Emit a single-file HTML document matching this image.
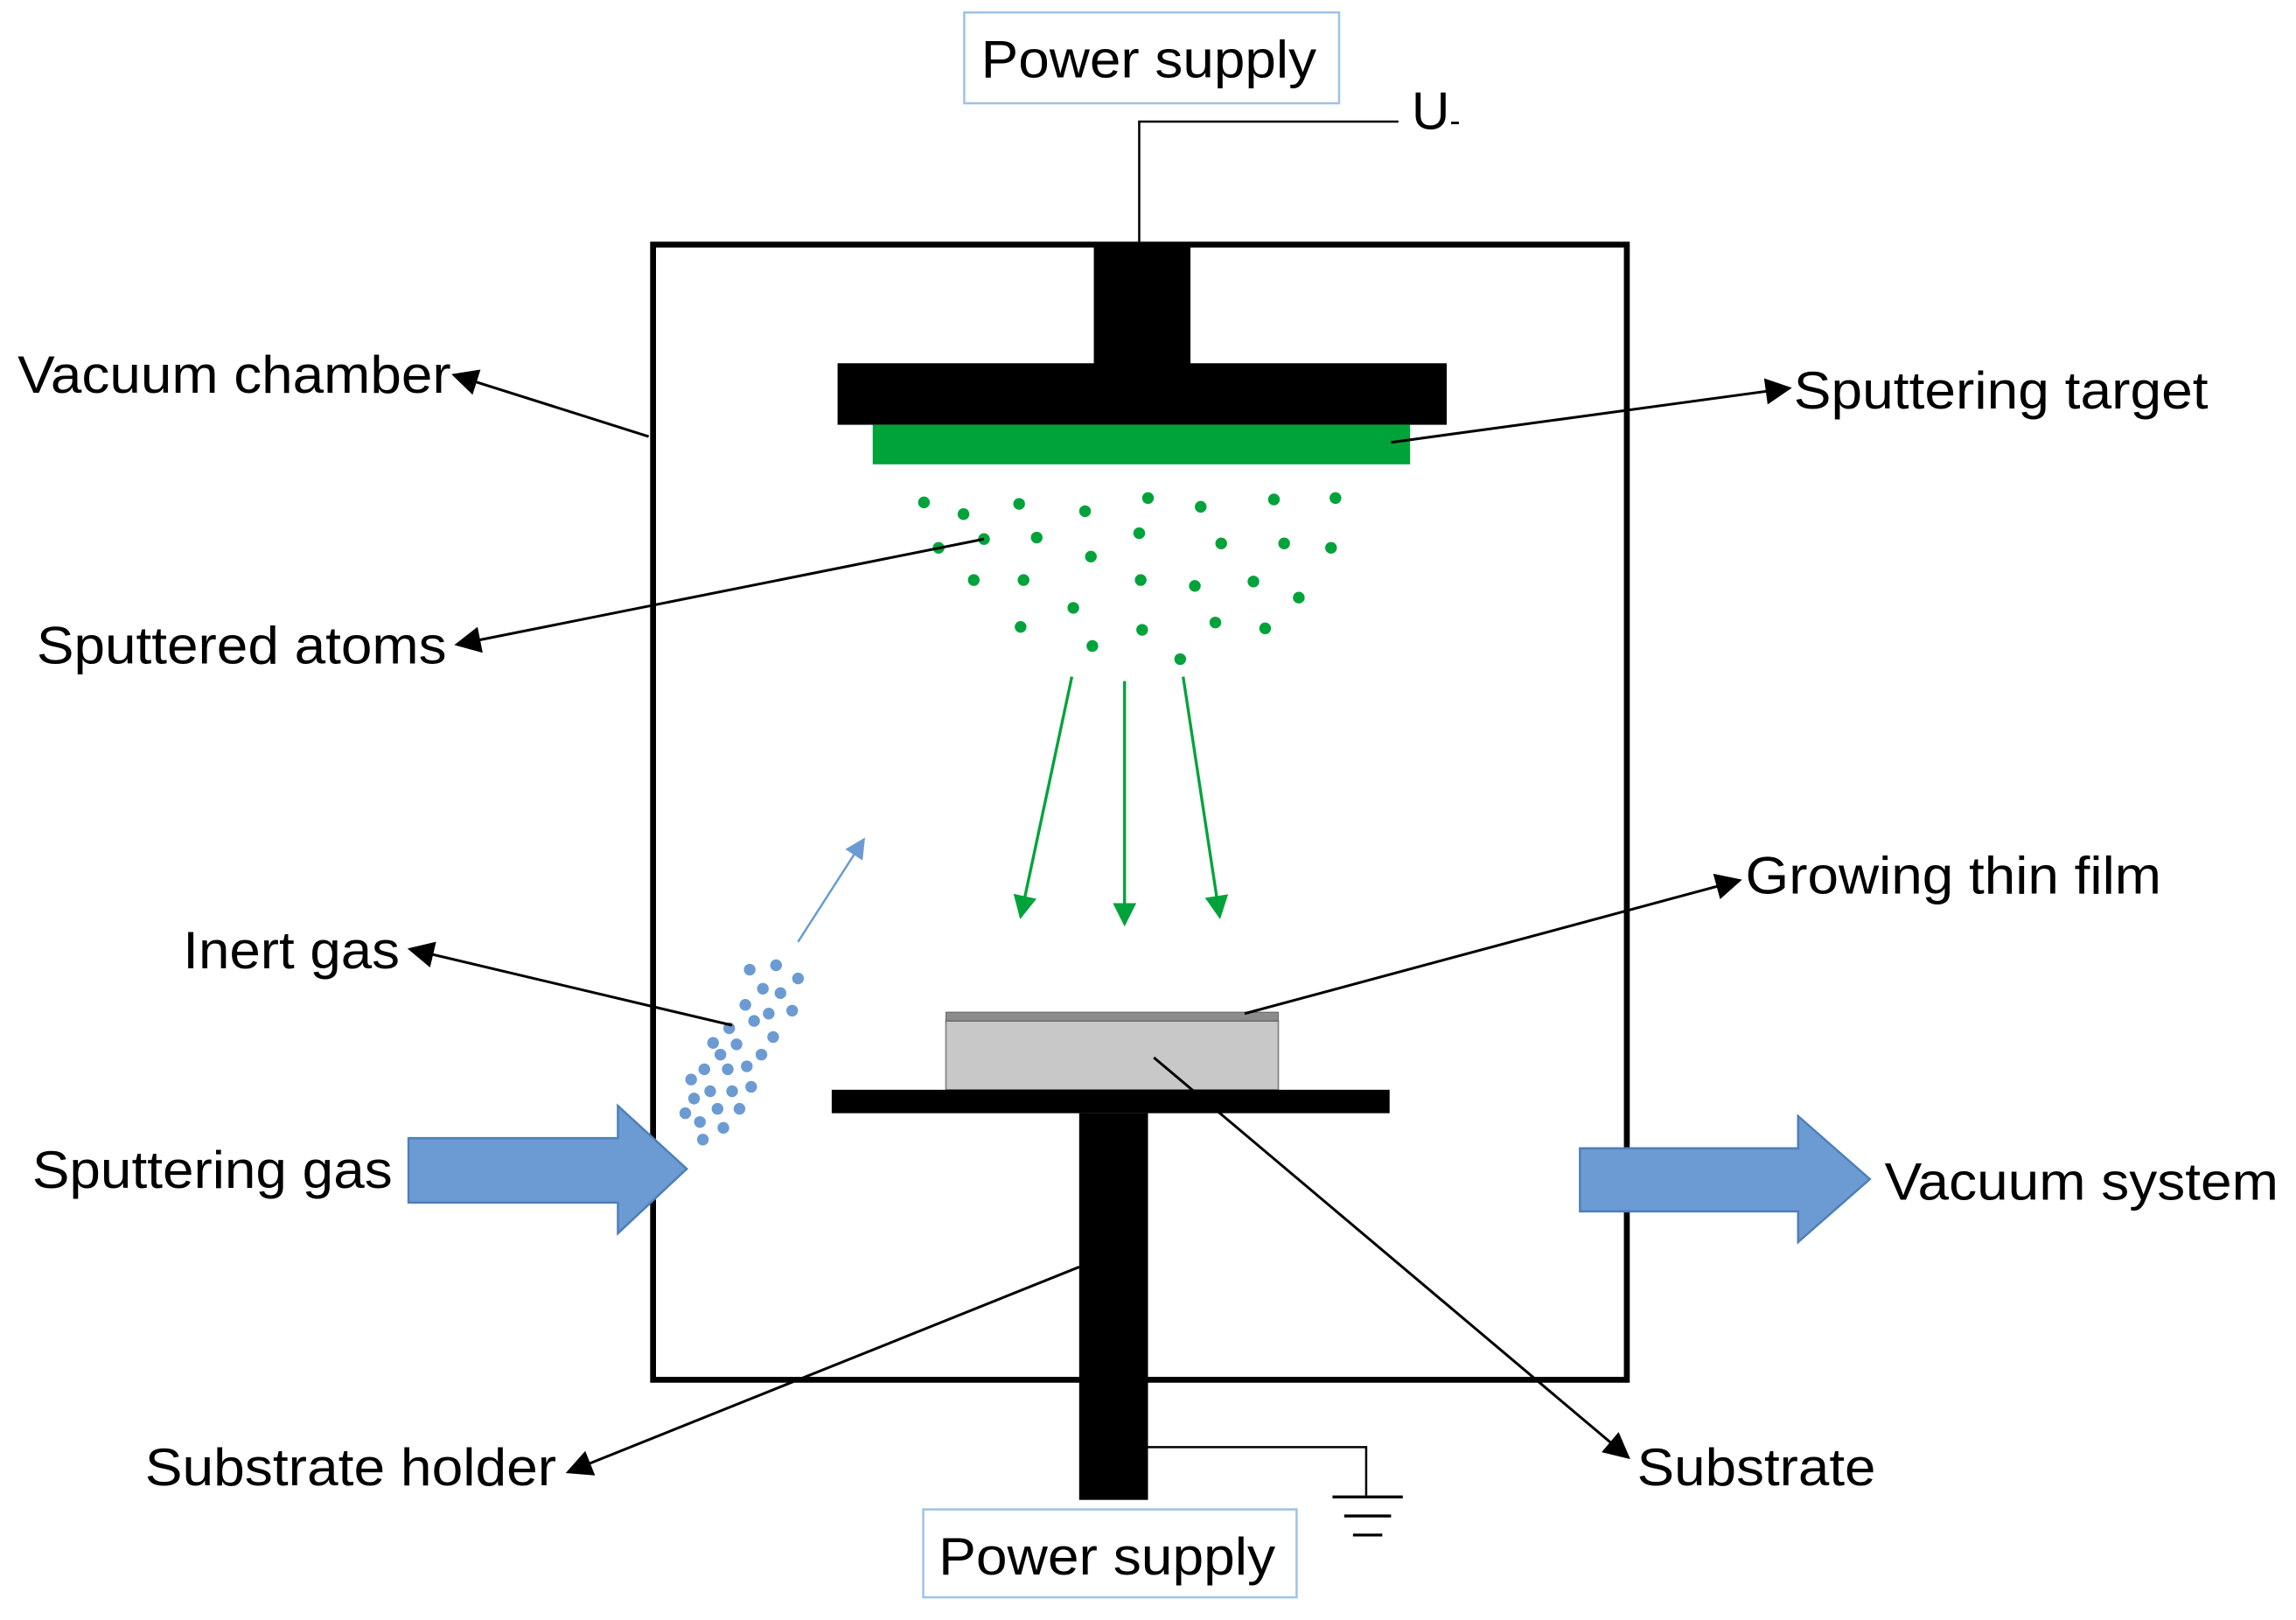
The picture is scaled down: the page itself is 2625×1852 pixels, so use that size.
<!DOCTYPE html>
<html><head><style>html,body{margin:0;padding:0;background:#fff;}svg{display:block;}</style></head>
<body>
<svg width="2625" height="1852" viewBox="0 0 1568 1106" preserveAspectRatio="none" xmlns="http://www.w3.org/2000/svg" font-family="Liberation Sans, Arial, sans-serif">
<defs>
<marker id="ab2" viewBox="0 0 10 10" refX="9" refY="5" markerWidth="20" markerHeight="18" markerUnits="userSpaceOnUse" orient="auto"><path d="M0,0 L10,5 L0,10z" fill="#000"/></marker>
<marker id="ag" viewBox="0 0 10 10" refX="9" refY="5" markerWidth="18" markerHeight="16" markerUnits="userSpaceOnUse" orient="auto"><path d="M0,0 L10,5 L0,10z" fill="#00a33a"/></marker>
<marker id="abl" viewBox="0 0 10 10" refX="9" refY="5" markerWidth="16" markerHeight="14" markerUnits="userSpaceOnUse" orient="auto"><path d="M0,0 L10,5 L0,10z" fill="#6b9bd2"/></marker>
</defs>
<rect width="1568" height="1106" fill="#fff"/>
<rect x="658.5" y="8.5" width="256" height="62" fill="#fff" stroke="#9dc3e6" stroke-width="1.5"/>
<text x="670" y="53" font-size="36" textLength="229" lengthAdjust="spacingAndGlyphs">Power supply</text>
<polyline points="778,167 778,83 955,83" fill="none" stroke="#000" stroke-width="1.5"/>
<text x="964" y="88" font-size="36">U</text><text x="990" y="90" font-size="22">-</text>
<rect x="446" y="167" width="665" height="775" fill="none" stroke="#000" stroke-width="4"/>
<rect x="747" y="167" width="66" height="82" fill="#000"/>
<rect x="572" y="248" width="416" height="42" fill="#000"/>
<rect x="596" y="290" width="367" height="27" fill="#00a33a"/>
<g fill="#00a33a">
<circle cx="631" cy="343" r="4"/><circle cx="658" cy="351" r="4"/><circle cx="696" cy="344" r="4"/><circle cx="741" cy="349" r="4"/><circle cx="784" cy="340" r="4"/><circle cx="820" cy="346" r="4"/><circle cx="870" cy="341" r="4"/><circle cx="912" cy="340" r="4"/>
<circle cx="641" cy="374" r="4"/><circle cx="672" cy="368" r="4"/><circle cx="708" cy="367" r="4"/><circle cx="745" cy="380" r="4"/><circle cx="778" cy="364" r="4"/><circle cx="834" cy="371" r="4"/><circle cx="877" cy="371" r="4"/><circle cx="909" cy="374" r="4"/>
<circle cx="665" cy="396" r="4"/><circle cx="699" cy="396" r="4"/><circle cx="733" cy="415" r="4"/><circle cx="779" cy="396" r="4"/><circle cx="816" cy="400" r="4"/><circle cx="856" cy="397" r="4"/><circle cx="887" cy="408" r="4"/>
<circle cx="697" cy="428" r="4"/><circle cx="746" cy="441" r="4"/><circle cx="780" cy="430" r="4"/><circle cx="830" cy="425" r="4"/><circle cx="864" cy="429" r="4"/><circle cx="806" cy="450" r="4"/>
</g>
<g stroke="#00a33a" stroke-width="2">
<line x1="732" y1="462" x2="697" y2="626" marker-end="url(#ag)"/>
<line x1="768" y1="465" x2="768" y2="631" marker-end="url(#ag)"/>
<line x1="808" y1="462" x2="833" y2="626" marker-end="url(#ag)"/>
</g>
<rect x="646" y="697" width="227" height="47" fill="#c8c8c8" stroke="#7f7f7f" stroke-width="1"/>
<rect x="646" y="691" width="227" height="6" fill="#8c8c8c" stroke="#555" stroke-width="0.5"/>
<rect x="568" y="744" width="381" height="16" fill="#000"/>
<rect x="737" y="760" width="47" height="264" fill="#000"/>
<polyline points="784,988 933,988 933,1021" fill="none" stroke="#000" stroke-width="1.5"/>
<line x1="910" y1="1022" x2="958" y2="1022" stroke="#000" stroke-width="2"/>
<line x1="918" y1="1035" x2="950" y2="1035" stroke="#000" stroke-width="2"/>
<line x1="924" y1="1048" x2="944" y2="1048" stroke="#000" stroke-width="2"/>
<rect x="630.5" y="1030.5" width="255" height="60" fill="#fff" stroke="#9dc3e6" stroke-width="1.5"/>
<text x="641" y="1075" font-size="36" textLength="230" lengthAdjust="spacingAndGlyphs">Power supply</text>
<path d="M279,777 L422,777 L422,755 L469,798 L422,842 L422,821 L279,821Z" fill="#6b9bd2" stroke="#4f7fb8" stroke-width="1.5"/>
<path d="M1079,784 L1228,784 L1228,762 L1277,805 L1228,848 L1228,827 L1079,827Z" fill="#6b9bd2" stroke="#4f7fb8" stroke-width="1.5"/>
<g fill="#6b9bd2">
<circle cx="512" cy="662" r="4"/><circle cx="530" cy="659" r="4"/><circle cx="521" cy="675" r="4"/><circle cx="533" cy="678" r="4"/><circle cx="545" cy="668" r="4"/><circle cx="509" cy="686" r="4"/><circle cx="525" cy="692" r="4"/><circle cx="541" cy="690" r="4"/><circle cx="498" cy="702" r="4"/><circle cx="515" cy="697" r="4"/><circle cx="528" cy="708" r="4"/><circle cx="487" cy="712" r="4"/><circle cx="503" cy="713" r="4"/><circle cx="520" cy="720" r="4"/><circle cx="492" cy="720" r="4"/><circle cx="481" cy="730" r="4"/><circle cx="497" cy="730" r="4"/><circle cx="510" cy="728" r="4"/><circle cx="472" cy="737" r="4"/><circle cx="485" cy="745" r="4"/><circle cx="500" cy="745" r="4"/><circle cx="513" cy="742" r="4"/><circle cx="474" cy="750" r="4"/><circle cx="490" cy="757" r="4"/><circle cx="505" cy="757" r="4"/><circle cx="468" cy="760" r="4"/><circle cx="478" cy="766" r="4"/><circle cx="494" cy="770" r="4"/><circle cx="480" cy="778" r="4"/>
</g>
<line x1="545" y1="643" x2="590" y2="573" stroke="#6b9bd2" stroke-width="1.5" marker-end="url(#abl)"/>
<g stroke="#000" stroke-width="1.8" fill="none">
<line x1="443" y1="298" x2="310" y2="256" marker-end="url(#ab2)"/>
<line x1="950" y1="302" x2="1222" y2="265" marker-end="url(#ab2)"/>
<line x1="672" y1="368" x2="312" y2="440" marker-end="url(#ab2)"/>
<line x1="500" y1="700" x2="280" y2="648" marker-end="url(#ab2)"/>
<line x1="850" y1="692" x2="1188" y2="601" marker-end="url(#ab2)"/>
<line x1="788" y1="722" x2="1112" y2="995" marker-end="url(#ab2)"/>
<line x1="737" y1="865" x2="388" y2="1005" marker-end="url(#ab2)"/>
</g>
<g font-size="36" fill="#000" lengthAdjust="spacingAndGlyphs">
<text x="12" y="268" textLength="296" lengthAdjust="spacingAndGlyphs">Vacuum chamber</text>
<text x="1225" y="279" textLength="283" lengthAdjust="spacingAndGlyphs">Sputtering target</text>
<text x="25" y="453" textLength="280" lengthAdjust="spacingAndGlyphs">Sputtered atoms</text>
<text x="125" y="661" textLength="148" lengthAdjust="spacingAndGlyphs">Inert gas</text>
<text x="1192" y="610" textLength="284" lengthAdjust="spacingAndGlyphs">Growing thin film</text>
<text x="22" y="811" textLength="246" lengthAdjust="spacingAndGlyphs">Sputtering gas</text>
<text x="1287" y="819" textLength="269" lengthAdjust="spacingAndGlyphs">Vacuum system</text>
<text x="99" y="1014" textLength="281" lengthAdjust="spacingAndGlyphs">Substrate holder</text>
<text x="1118" y="1014" textLength="163" lengthAdjust="spacingAndGlyphs">Substrate</text>
</g>
</svg>
</body></html>
